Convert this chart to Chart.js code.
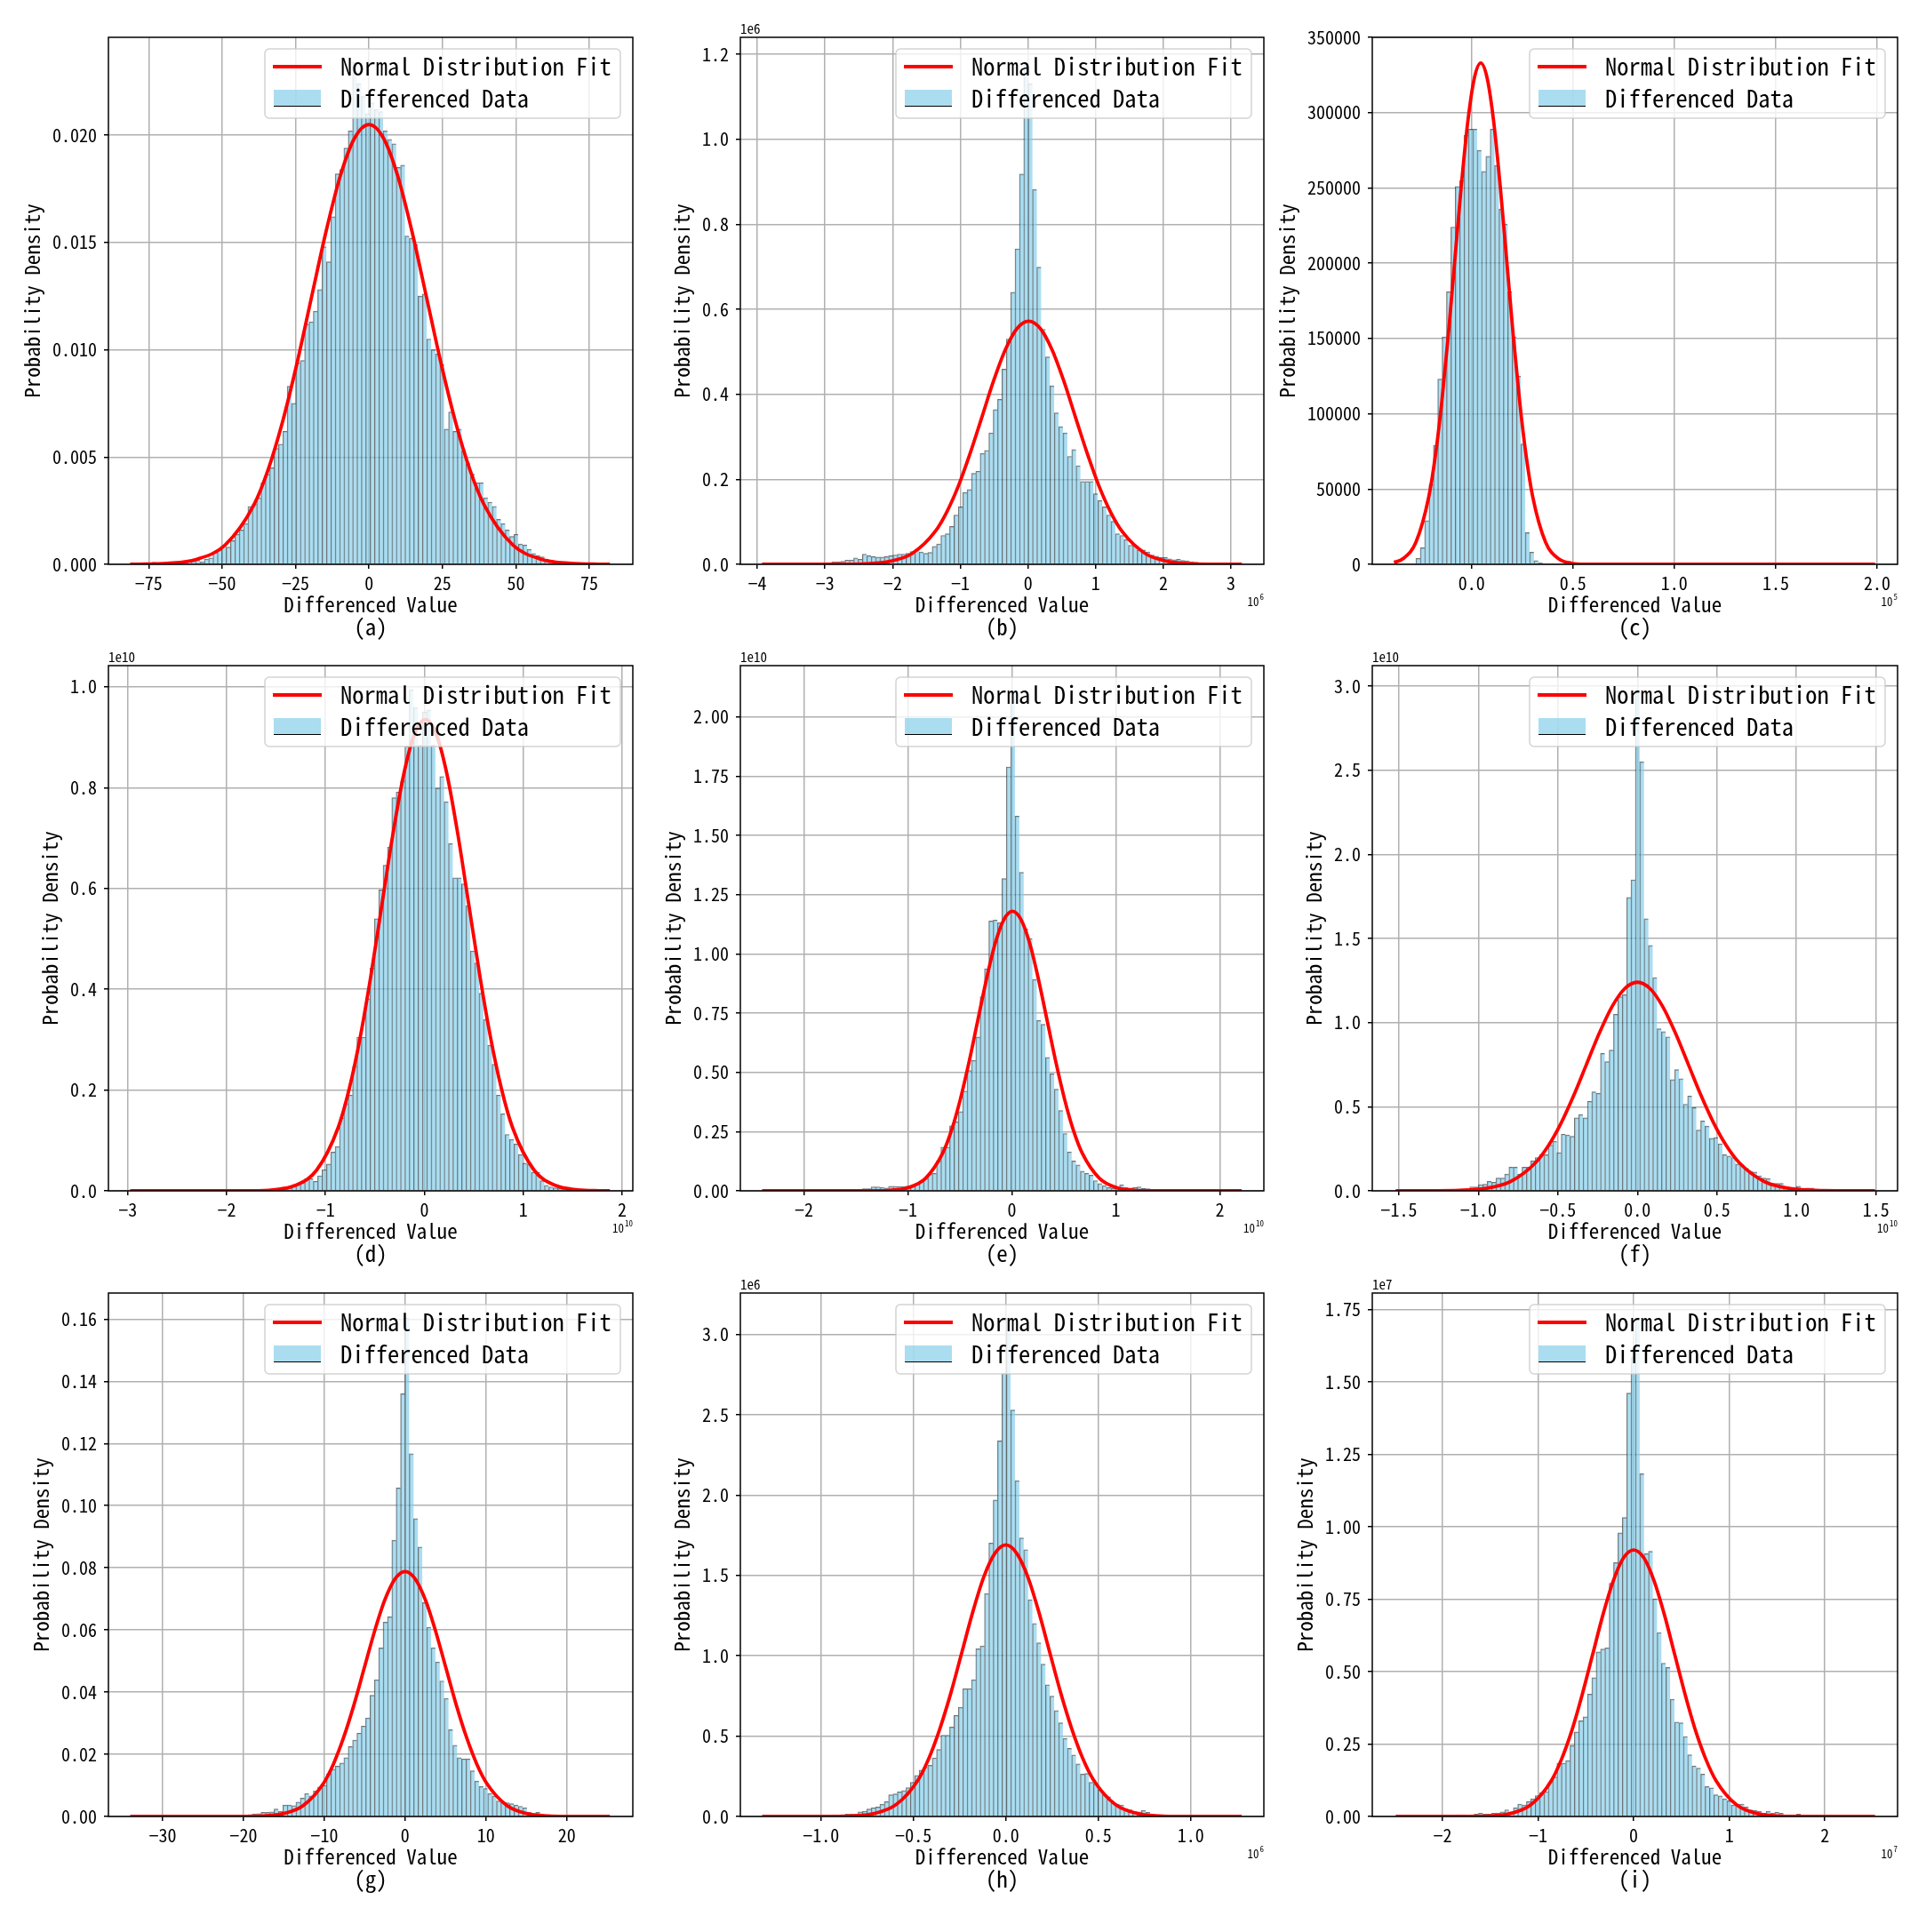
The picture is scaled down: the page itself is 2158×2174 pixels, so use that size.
<!DOCTYPE html>
<html>
<head>
<meta charset="utf-8">
<script src="https://cdn.jsdelivr.net/npm/chart.js@4.4.1/dist/chart.umd.min.js"></script>
<style>
  html, body { margin: 0; padding: 0; background: #fff; }
  #page { position: relative; width: 2158px; height: 2174px; overflow: hidden; }
  canvas { position: absolute; }
</style>
</head>
<body>
<div id="page"></div>
<script>
const FONT = "'Noto Sans Mono CJK SC', 'DejaVu Sans Mono', monospace";
const BAR_FILL = 'rgba(135,206,235,0.7)';
const BAR_EDGE = 'rgba(0,0,0,0.55)';
const GRID = '#b0b0b0';

// ---- (a) ----
const histRangeA = [-73.9, 74.6];
const histA = [
  0.0001, 0.00003, 0.00003, 0.00005, 0.00005, 0.00007, 0.0001, 0.0001, 0.00013, 0.00015,
  0.0002, 0.00012, 0.00025, 0.0003, 0.00055, 0.0007, 0.00086, 0.0008, 0.0011, 0.0014,
  0.0016, 0.0019, 0.0027, 0.0028, 0.0031, 0.0038, 0.0042, 0.0045, 0.0054, 0.0056,
  0.0062, 0.0083, 0.0075, 0.0094, 0.0095, 0.0112, 0.0113, 0.0118, 0.0128, 0.0148,
  0.0141, 0.0162, 0.0182, 0.0184, 0.0194, 0.0202, 0.0234, 0.0224, 0.0218, 0.021,
  0.0215, 0.0212, 0.0211, 0.0202, 0.0198, 0.0196, 0.0185, 0.0186, 0.0153, 0.0152,
  0.0149, 0.0125, 0.0126, 0.0105, 0.01, 0.0098, 0.0093, 0.0063, 0.0071, 0.0062,
  0.0063, 0.0053, 0.0047, 0.0042, 0.0038, 0.0038, 0.0031, 0.0029, 0.0027, 0.0021,
  0.0019, 0.0016, 0.0013, 0.0014, 0.00095, 0.0009, 0.0007, 0.0005, 0.0004, 0.00035,
  0.00025, 0.0002, 0.00015, 0.00012, 0.0001, 0.00006, 0.00005, 0.00003, 0.00002, 0.00002
];
const curveXA = [-81.3, -78.4, -68.6, -58.8, -49, -39.2, -34.3, -29.4, -24.5, -19.6, -14.7, -9.8, -4.9, 0,
  4.9, 9.8, 14.7, 19.6, 24.5, 29.4, 34.3, 39.2, 49, 58.8, 68.6, 78.4, 82];
const curveYA = [0.000004, 0.000007, 0.000045, 0.00023, 0.0009, 0.00277, 0.00443, 0.00666, 0.00938, 0.01243, 0.01547, 0.01809, 0.01987, 0.0205,
  0.01987, 0.01809, 0.01547, 0.01243, 0.00938, 0.00666, 0.00443, 0.00277, 0.0009, 0.00023, 0.000045, 0.000007, 0.000004];
const xRangeA = [-88.7, 89.8];
const xTicksA = [-75, -50, -25, 0, 25, 50, 75];
const xLabelsA = ['\u221275', '\u221250', '\u221225', '0', '25', '50', '75'];
const yMaxA = 0.02456;
const yTicksA = [0, 0.005, 0.01, 0.015, 0.02];
const yLabelsA = ['0.000', '0.005', '0.010', '0.015', '0.020'];

// ---- (b) ----
const histRangeB = [-3.607, 2.837];
const histB = [
  0, 0, 0.001, 0, 0.001, 0.001, 0.002, 0.002, 0.003, 0.003,
  0.004, 0.006, 0.006, 0.007, 0.01, 0.01, 0.015, 0.012, 0.024, 0.02,
  0.018, 0.017, 0.017, 0.018, 0.02, 0.022, 0.024, 0.024, 0.026, 0.03,
  0.034, 0.029, 0.026, 0.028, 0.042, 0.048, 0.068, 0.072, 0.089, 0.116,
  0.135, 0.169, 0.176, 0.214, 0.219, 0.261, 0.268, 0.309, 0.364, 0.388,
  0.459, 0.53, 0.64, 0.742, 0.918, 1.18, 1.13, 0.882, 0.699, 0.553,
  0.488, 0.42, 0.356, 0.324, 0.309, 0.254, 0.27, 0.232, 0.195, 0.195,
  0.195, 0.166, 0.15, 0.135, 0.116, 0.101, 0.072, 0.068, 0.058, 0.045,
  0.043, 0.034, 0.034, 0.029, 0.022, 0.019, 0.016, 0.016, 0.013, 0.011,
  0.012, 0.009, 0.008, 0.006, 0.005, 0.003, 0.002, 0.001, 0.001, 0.0005
];
const curveXB = [-3.93, -2.75, -2.405, -2.06, -1.715, -1.37, -1.198, -1.025, -0.853, -0.68, -0.508, -0.335, -0.163, 0.01,
  0.183, 0.355, 0.528, 0.7, 0.873, 1.045, 1.218, 1.39, 1.735, 2.08, 2.425, 2.77, 3.16];
const curveYB = [0, 0.0002, 0.0013, 0.0064, 0.0251, 0.0774, 0.1237, 0.1857, 0.2619, 0.3469, 0.4317, 0.5048, 0.5544, 0.572,
  0.5544, 0.5048, 0.4317, 0.3469, 0.2619, 0.1857, 0.1237, 0.0774, 0.0251, 0.0064, 0.0013, 0.0002, 0.00001];
const xRangeB = [-4.25, 3.485];
const xTicksB = [-4, -3, -2, -1, 0, 1, 2, 3];
const xLabelsB = ['\u22124', '\u22123', '\u22122', '\u22121', '0', '1', '2', '3'];
const yMaxB = 1.2396;
const yTicksB = [0, 0.2, 0.4, 0.6, 0.8, 1.0, 1.2];
const yLabelsB = ['0.0', '0.2', '0.4', '0.6', '0.8', '1.0', '1.2'];

// ---- (c) ----
const histRangeC = [-0.275, 1.882];
const histC = [
  4000, 11000, 29000, 53000, 79000, 123000, 151000, 181000, 224000, 251000,
  255000, 285000, 289000, 289000, 275000, 261000, 271000, 289000, 265000, 236000,
  226000, 181000, 151000, 125000, 80000, 21000, 8000, 2500, 1000, 0,
  0, 0, 0, 0, 0, 0, 0, 0, 0, 0,
  0, 0, 0, 0, 0, 0, 0, 0, 0, 0,
  0, 0, 0, 0, 0, 0, 0, 0, 0, 0,
  0, 0, 0, 0, 0, 0, 0, 0, 0, 0,
  0, 0, 0, 0, 0, 0, 0, 0, 0, 0,
  0, 0, 0, 0, 0, 0, 0, 0, 0, 0,
  0, 0, 0, 0, 0, 0, 0, 0, 0, 50
];
const curveXC = [-0.383, -0.339, -0.275, -0.211, -0.179, -0.147, -0.115, -0.083, -0.051, -0.019, 0.013, 0.045,
  0.077, 0.109, 0.141, 0.173, 0.205, 0.237, 0.269, 0.301, 0.365, 0.429, 0.493, 0.557, 0.8, 1.99];
const curveYC = [1260, 3700, 14600, 45100, 72000, 108100, 152400, 202000, 251300, 293900, 322700, 333000,
  322700, 293900, 251300, 202000, 152400, 108100, 72000, 45100, 14600, 3700, 730, 110, 0, 0];
const xRangeC = [-0.49, 2.101];
const xTicksC = [0, 0.5, 1.0, 1.5, 2.0];
const xLabelsC = ['0.0', '0.5', '1.0', '1.5', '2.0'];
const yMaxC = 350050;
const yTicksC = [0, 50000, 100000, 150000, 200000, 250000, 300000, 350000];
const yLabelsC = ['0', '50000', '100000', '150000', '200000', '250000', '300000', '350000'];

// ---- (d) ----
const histRangeD = [-2.755, 1.655];
const histD = [
  0.0005, 0, 0, 0, 0, 0, 0.001, 0, 0, 0,
  0, 0, 0, 0, 0, 0, 0, 0, 0, 0,
  0, 0, 0.0005, 0, 0.001, 0, 0.001, 0.001, 0.002, 0.003,
  0.004, 0.006, 0.009, 0.012, 0.016, 0.024, 0.024, 0.019, 0.03, 0.042,
  0.053, 0.077, 0.088, 0.145, 0.173, 0.19, 0.247, 0.305, 0.305, 0.381,
  0.442, 0.54, 0.597, 0.646, 0.682, 0.78, 0.791, 0.813, 0.882, 0.994,
  0.959, 0.884, 0.95, 0.954, 0.884, 0.799, 0.822, 0.772, 0.689, 0.621,
  0.621, 0.609, 0.566, 0.476, 0.452, 0.392, 0.34, 0.289, 0.251, 0.19,
  0.153, 0.112, 0.102, 0.093, 0.072, 0.055, 0.053, 0.037, 0.037, 0.02,
  0.011, 0.008, 0.006, 0.005, 0.004, 0.003, 0.002, 0.001, 0.001, 0.0005
];
const curveXD = [-2.975, -1.75, -1.53, -1.31, -1.09, -0.87, -0.76, -0.65, -0.54, -0.43, -0.32, -0.21, -0.1, 0.01,
  0.12, 0.23, 0.34, 0.45, 0.56, 0.67, 0.78, 0.89, 1.11, 1.33, 1.55, 1.77, 1.876];
const curveYD = [0, 0.0003, 0.0021, 0.0104, 0.041, 0.1265, 0.2022, 0.3036, 0.428, 0.5671, 0.7057, 0.8251, 0.9062, 0.935,
  0.9062, 0.8251, 0.7057, 0.5671, 0.428, 0.3036, 0.2022, 0.1265, 0.041, 0.0104, 0.0021, 0.0003, 0.0001];
const xRangeD = [-3.195, 2.108];
const xTicksD = [-3, -2, -1, 0, 1, 2];
const xLabelsD = ['\u22123', '\u22122', '\u22121', '0', '1', '2'];
const yMaxD = 1.042;
const yTicksD = [0, 0.2, 0.4, 0.6, 0.8, 1.0];
const yLabelsD = ['0.0', '0.2', '0.4', '0.6', '0.8', '1.0'];

// ---- (e) ----
const histRangeE = [-2.192, 1.999];
const histE = [
  0.0005, 0, 0, 0, 0, 0.001, 0, 0, 0.001, 0,
  0.001, 0.001, 0, 0.002, 0.002, 0.003, 0.004, 0.005, 0.009, 0.009,
  0.017, 0.017, 0.015, 0.012, 0.019, 0.019, 0.018, 0.018, 0.02, 0.022,
  0.031, 0.04, 0.052, 0.071, 0.074, 0.126, 0.184, 0.184, 0.274, 0.291,
  0.334, 0.421, 0.508, 0.551, 0.649, 0.819, 0.937, 1.139, 1.143, 1.131,
  1.318, 1.789, 2.11, 1.581, 1.344, 1.105, 1.065, 0.892, 0.719, 0.703,
  0.563, 0.494, 0.429, 0.339, 0.242, 0.164, 0.126, 0.109, 0.083, 0.074,
  0.066, 0.043, 0.031, 0.022, 0.014, 0.012, 0.01, 0.026, 0.014, 0.012,
  0.014, 0.017, 0.01, 0.009, 0.006, 0.004, 0.003, 0.002, 0.002, 0.001,
  0.001, 0.001, 0, 0, 0.001, 0, 0, 0, 0, 0.0005
];
const curveXE = [-2.402, -1.335, -1.168, -1.0, -0.833, -0.665, -0.581, -0.498, -0.414, -0.33, -0.246, -0.163, -0.079, 0.005,
  0.089, 0.173, 0.256, 0.34, 0.424, 0.508, 0.591, 0.675, 0.843, 1.01, 1.178, 1.345, 2.209];
const curveYE = [0, 0.0004, 0.0026, 0.0131, 0.0518, 0.1597, 0.2552, 0.3831, 0.5402, 0.7157, 0.8907, 1.0414, 1.1437, 1.18,
  1.1437, 1.0414, 0.8907, 0.7157, 0.5402, 0.3831, 0.2552, 0.1597, 0.0518, 0.0131, 0.0026, 0.0004, 0];
const xRangeE = [-2.611, 2.422];
const xTicksE = [-2, -1, 0, 1, 2];
const xLabelsE = ['\u22122', '\u22121', '0', '1', '2'];
const yMaxE = 2.2165;
const yTicksE = [0, 0.25, 0.5, 0.75, 1.0, 1.25, 1.5, 1.75, 2.0];
const yLabelsE = ['0.00', '0.25', '0.50', '0.75', '1.00', '1.25', '1.50', '1.75', '2.00'];

// ---- (f) ----
const histRangeF = [-1.383, 1.357];
const histF = [
  0.0005, 0.002, 0, 0.003, 0, 0.004, 0.003, 0.005, 0.006, 0.008,
  0.01, 0.012, 0.024, 0.024, 0.037, 0.039, 0.056, 0.051, 0.076, 0.076,
  0.1, 0.141, 0.141, 0.1, 0.141, 0.141, 0.178, 0.198, 0.215, 0.215,
  0.271, 0.295, 0.227, 0.337, 0.332, 0.324, 0.434, 0.454, 0.434, 0.532,
  0.588, 0.58, 0.817, 0.768, 0.837, 1.049, 1.154, 1.166, 1.744, 1.849,
  2.97, 2.551, 1.617, 1.459, 1.268, 0.963, 0.946, 0.915, 0.661, 0.72,
  0.666, 0.515, 0.563, 0.495, 0.361, 0.415, 0.385, 0.312, 0.317, 0.28,
  0.215, 0.207, 0.198, 0.159, 0.154, 0.134, 0.117, 0.112, 0.09, 0.076,
  0.073, 0.044, 0.044, 0.044, 0.02, 0.012, 0.012, 0.027, 0.015, 0.017,
  0.017, 0.008, 0.005, 0.004, 0.003, 0.002, 0.002, 0.001, 0.001, 0.0005
];
const curveXF = [-1.52, -1.28, -1.12, -0.96, -0.8, -0.64, -0.56, -0.48, -0.4, -0.32, -0.24, -0.16, -0.08, 0,
  0.08, 0.16, 0.24, 0.32, 0.4, 0.48, 0.56, 0.64, 0.8, 0.96, 1.12, 1.28, 1.494];
const curveYF = [0.00002, 0.0004, 0.0027, 0.0138, 0.0544, 0.1678, 0.2682, 0.4026, 0.5677, 0.7521, 0.936, 1.0943, 1.2018, 1.24,
  1.2018, 1.0943, 0.936, 0.7521, 0.5677, 0.4026, 0.2682, 0.1678, 0.0544, 0.0138, 0.0027, 0.0004, 0.00002];
const xRangeF = [-1.667, 1.636];
const xTicksF = [-1.5, -1.0, -0.5, 0, 0.5, 1.0, 1.5];
const xLabelsF = ['\u22121.5', '\u22121.0', '\u22120.5', '0.0', '0.5', '1.0', '1.5'];
const yMaxF = 3.122;
const yTicksF = [0, 0.5, 1.0, 1.5, 2.0, 2.5, 3.0];
const yLabelsF = ['0.0', '0.5', '1.0', '1.5', '2.0', '2.5', '3.0'];

// ---- (g) ----
const histRangeG = [-31.31, 22.63];
const histG = [
  0.0001, 0, 0, 0, 0, 0, 0, 0, 0, 0,
  0, 0, 0, 0, 0, 0.0001, 0, 0.0001, 0.0001, 0.0002,
  0.0003, 0.0004, 0.0006, 0.0008, 0.0009, 0.0013, 0.0013, 0.0015, 0.0024, 0.0017,
  0.0037, 0.0037, 0.0035, 0.0046, 0.0059, 0.0074, 0.0066, 0.0083, 0.0095, 0.01,
  0.0136, 0.0152, 0.0162, 0.0172, 0.0189, 0.0225, 0.0246, 0.0268, 0.0291, 0.0317,
  0.039, 0.044, 0.0542, 0.0625, 0.0642, 0.0889, 0.1057, 0.136, 0.1604, 0.1167,
  0.0958, 0.0867, 0.0688, 0.0609, 0.0543, 0.0497, 0.0436, 0.038, 0.0279, 0.0229,
  0.0189, 0.0185, 0.0185, 0.0147, 0.0114, 0.0096, 0.009, 0.0074, 0.0066, 0.005,
  0.0046, 0.0044, 0.0041, 0.0037, 0.0033, 0.0028, 0.0013, 0.0007, 0.0013, 0.0004,
  0.0003, 0.0002, 0.0001, 0.0001, 0, 0, 0, 0, 0, 0.0001
];
const curveXG = [-34, -20.2, -17.68, -15.15, -12.63, -10.1, -8.84, -7.58, -6.31, -5.05, -3.79, -2.53, -1.26, 0,
  1.26, 2.53, 3.79, 5.05, 6.31, 7.58, 8.84, 10.1, 12.63, 15.15, 17.68, 20.2, 25.33];
const curveYG = [0, 0.00003, 0.00017, 0.00088, 0.00346, 0.01066, 0.01704, 0.02559, 0.03607, 0.04779, 0.05948, 0.06954, 0.07637, 0.0788,
  0.07637, 0.06954, 0.05948, 0.04779, 0.03607, 0.02559, 0.01704, 0.01066, 0.00346, 0.00088, 0.00017, 0.00003, 0];
const xRangeG = [-36.7, 28.17];
const xTicksG = [-30, -20, -10, 0, 10, 20];
const xLabelsG = ['\u221230', '\u221220', '\u221210', '0', '10', '20'];
const yMaxG = 0.1684;
const yTicksG = [0, 0.02, 0.04, 0.06, 0.08, 0.10, 0.12, 0.14, 0.16];
const yLabelsG = ['0.00', '0.02', '0.04', '0.06', '0.08', '0.10', '0.12', '0.14', '0.16'];

// ---- (h) ----
const histRangeH = [-1.2, 1.158];
const histH = [
  0.0005, 0, 0.002, 0, 0.003, 0.002, 0.004, 0.004, 0.006, 0.008,
  0.008, 0.01, 0.01, 0.012, 0.015, 0.015, 0.015, 0.028, 0.033, 0.046,
  0.054, 0.059, 0.077, 0.092, 0.135, 0.14, 0.153, 0.161, 0.179, 0.212,
  0.256, 0.289, 0.307, 0.319, 0.365, 0.417, 0.506, 0.506, 0.557, 0.629,
  0.68, 0.795, 0.795, 0.851, 1.043, 1.061, 1.388, 1.702, 1.97, 2.338,
  2.76, 3.1, 2.53, 2.09, 1.733, 1.661, 1.349, 1.201, 1.081, 0.948,
  0.82, 0.749, 0.659, 0.583, 0.486, 0.424, 0.383, 0.327, 0.263, 0.268,
  0.212, 0.204, 0.166, 0.135, 0.123, 0.084, 0.077, 0.072, 0.046, 0.041,
  0.033, 0.028, 0.038, 0.026, 0.015, 0.01, 0.008, 0.006, 0.005, 0.004,
  0.003, 0.003, 0.002, 0.002, 0.001, 0.001, 0.001, 0, 0, 0.0005
];
const curveXH = [-1.318, -0.948, -0.83, -0.711, -0.593, -0.474, -0.415, -0.356, -0.296, -0.237, -0.178, -0.119, -0.059, 0,
  0.059, 0.119, 0.178, 0.237, 0.296, 0.356, 0.415, 0.474, 0.593, 0.711, 0.83, 0.948, 1.276];
const curveYH = [0, 0.0006, 0.0037, 0.0188, 0.0742, 0.2287, 0.3655, 0.5487, 0.7737, 1.025, 1.2756, 1.4914, 1.638, 1.69,
  1.638, 1.4914, 1.2756, 1.025, 0.7737, 0.5487, 0.3655, 0.2287, 0.0742, 0.0188, 0.0037, 0.0006, 0];
const xRangeH = [-1.436, 1.396];
const xTicksH = [-1.0, -0.5, 0, 0.5, 1.0];
const xLabelsH = ['\u22121.0', '\u22120.5', '0.0', '0.5', '1.0'];
const yMaxH = 3.258;
const yTicksH = [0, 0.5, 1.0, 1.5, 2.0, 2.5, 3.0];
const yLabelsH = ['0.0', '0.5', '1.0', '1.5', '2.0', '2.5', '3.0'];

// ---- (i) ----
const histRangeI = [-2.261, 2.296];
const histI = [
  0.0005, 0, 0.002, 0.001, 0.002, 0.002, 0.003, 0.004, 0.004, 0.006,
  0.006, 0.004, 0.006, 0.008, 0.011, 0.008, 0.008, 0.011, 0.012, 0.016,
  0.023, 0.016, 0.03, 0.043, 0.04, 0.051, 0.061, 0.072, 0.082, 0.086,
  0.118, 0.136, 0.184, 0.184, 0.193, 0.245, 0.292, 0.33, 0.344, 0.422,
  0.479, 0.568, 0.578, 0.582, 0.805, 0.876, 0.979, 1.032, 1.461, 1.584,
  1.72, 1.183, 0.907, 0.915, 0.751, 0.635, 0.529, 0.514, 0.405, 0.326,
  0.323, 0.276, 0.213, 0.174, 0.167, 0.146, 0.103, 0.099, 0.075, 0.071,
  0.061, 0.054, 0.04, 0.043, 0.043, 0.033, 0.023, 0.021, 0.018, 0.011,
  0.018, 0.011, 0.014, 0.011, 0.006, 0.006, 0.006, 0.008, 0.004, 0.003,
  0.003, 0.002, 0.002, 0.001, 0.001, 0.001, 0, 0, 0, 0.0005
];
const curveXI = [-2.489, -1.72, -1.505, -1.29, -1.075, -0.86, -0.753, -0.645, -0.538, -0.43, -0.323, -0.215, -0.108, 0,
  0.108, 0.215, 0.323, 0.43, 0.538, 0.645, 0.753, 0.86, 1.075, 1.29, 1.505, 1.72, 2.524];
const curveYI = [0, 0.0003, 0.002, 0.0102, 0.0404, 0.1245, 0.199, 0.2987, 0.4212, 0.558, 0.6944, 0.8119, 0.8917, 0.92,
  0.8917, 0.8119, 0.6944, 0.558, 0.4212, 0.2987, 0.199, 0.1245, 0.0404, 0.0102, 0.002, 0.0003, 0];
const xRangeI = [-2.734, 2.76];
const xTicksI = [-2, -1, 0, 1, 2];
const xLabelsI = ['\u22122', '\u22121', '0', '1', '2'];
const yMaxI = 1.8067;
const yTicksI = [0, 0.25, 0.5, 0.75, 1.0, 1.25, 1.5, 1.75];
const yLabelsI = ['0.00', '0.25', '0.50', '0.75', '1.00', '1.25', '1.50', '1.75'];

const panelNames = ['(a)', '(b)', '(c)', '(d)', '(e)', '(f)', '(g)', '(h)', '(i)'];
const yOffsets = [null, '1e6', null, '1e10', '1e10', '1e10', null, '1e6', '1e7'];
const xOffsets = [null, '6', '5', '10', '10', '10', null, '6', '7'];

// layout of the 3x3 grid (plot area edges, page pixels)
const colLeft = [122, 833, 1544], colRight = [712, 1422, 2135];
const rowTop = [42, 749, 1455], rowBottom = [635, 1340, 2044];
const PAD_L = 122, PAD_T = 40, PAD_R = 16, PAD_B = 100;

const panels = [
  [histRangeA, histA, curveXA, curveYA, xRangeA, xTicksA, xLabelsA, yMaxA, yTicksA, yLabelsA],
  [histRangeB, histB, curveXB, curveYB, xRangeB, xTicksB, xLabelsB, yMaxB, yTicksB, yLabelsB],
  [histRangeC, histC, curveXC, curveYC, xRangeC, xTicksC, xLabelsC, yMaxC, yTicksC, yLabelsC],
  [histRangeD, histD, curveXD, curveYD, xRangeD, xTicksD, xLabelsD, yMaxD, yTicksD, yLabelsD],
  [histRangeE, histE, curveXE, curveYE, xRangeE, xTicksE, xLabelsE, yMaxE, yTicksE, yLabelsE],
  [histRangeF, histF, curveXF, curveYF, xRangeF, xTicksF, xLabelsF, yMaxF, yTicksF, yLabelsF],
  [histRangeG, histG, curveXG, curveYG, xRangeG, xTicksG, xLabelsG, yMaxG, yTicksG, yLabelsG],
  [histRangeH, histH, curveXH, curveYH, xRangeH, xTicksH, xLabelsH, yMaxH, yTicksH, yLabelsH],
  [histRangeI, histI, curveXI, curveYI, xRangeI, xTicksI, xLabelsI, yMaxI, yTicksI, yLabelsI]
];

function decor(idx, yLabels) {
  return {
    id: 'decor' + idx,
    afterDatasetsDraw(chart) {
      const { ctx, chartArea: a } = chart;
      ctx.save();
      ctx.strokeStyle = '#000';
      ctx.lineWidth = 1.5;
      ctx.strokeRect(a.left, a.top, a.right - a.left, a.bottom - a.top);
      ctx.restore();
    },
    afterDraw(chart) {
      const { ctx, chartArea: a } = chart;
      ctx.save();

      // legend box, upper right
      const bw = 400, bh = 78;
      const bx = a.right - 14 - bw, by = a.top + 13;
      ctx.beginPath();
      ctx.roundRect(bx, by, bw, bh, 5);
      ctx.fillStyle = 'rgba(255,255,255,0.8)';
      ctx.fill();
      ctx.strokeStyle = 'rgba(200,200,200,0.8)';
      ctx.lineWidth = 1.5;
      ctx.stroke();
      ctx.strokeStyle = 'red';
      ctx.lineWidth = 3.8;
      ctx.beginPath();
      ctx.moveTo(bx + 9, by + 20);
      ctx.lineTo(bx + 64, by + 20);
      ctx.stroke();
      ctx.fillStyle = BAR_FILL;
      ctx.fillRect(bx + 10, by + 46, 53, 18.5);
      ctx.strokeStyle = '#000';
      ctx.lineWidth = 1;
      ctx.beginPath();
      ctx.moveTo(bx + 10, by + 64.5);
      ctx.lineTo(bx + 63, by + 64.5);
      ctx.stroke();
      ctx.fillStyle = '#000';
      ctx.font = '26.5px ' + FONT;
      ctx.textAlign = 'left';
      ctx.textBaseline = 'middle';
      ctx.fillText('Normal Distribution Fit', bx + 85, by + 20);
      ctx.fillText('Differenced Data', bx + 85, by + 56);

      // axis titles and panel letter
      const cx = (a.left + a.right) / 2;
      ctx.textAlign = 'center';
      ctx.font = '23px ' + FONT;
      ctx.fillText('Differenced Value', cx, a.bottom + 45);
      ctx.font = '25px ' + FONT;
      ctx.fillText(panelNames[idx], cx, a.bottom + 70);

      ctx.font = '20px ' + FONT;
      let maxW = 0;
      yLabels.forEach(t => { maxW = Math.max(maxW, ctx.measureText(t).width); });
      ctx.save();
      ctx.translate(a.left - 13 - maxW - 23, (a.top + a.bottom) / 2);
      ctx.rotate(-Math.PI / 2);
      ctx.font = '23px ' + FONT;
      ctx.fillText('Probability Density', 0, 0);
      ctx.restore();

      // offset texts
      if (yOffsets[idx]) {
        ctx.font = '15px ' + FONT;
        ctx.textAlign = 'left';
        ctx.fillText(yOffsets[idx], a.left, a.top - 10);
      }
      if (xOffsets[idx]) {
        ctx.textAlign = 'right';
        ctx.font = '9px ' + FONT;
        const sw = ctx.measureText(xOffsets[idx]).width;
        ctx.fillText(xOffsets[idx], a.right, a.bottom + 37);
        ctx.font = '13px ' + FONT;
        ctx.fillText('10', a.right - sw - 1, a.bottom + 42);
      }
      ctx.restore();
    }
  };
}

const page = document.getElementById('page');

panels.forEach((p, idx) => {
  const [hr, hist, cxs, cys, xr, xt, xl, ymax, yt, yl] = p;
  const col = idx % 3, row = Math.floor(idx / 3);
  const w = colRight[col] - colLeft[col] + PAD_L + PAD_R;
  const h = rowBottom[row] - rowTop[row] + PAD_T + PAD_B;
  const cv = document.createElement('canvas');
  cv.width = w;
  cv.height = h;
  cv.style.left = (colLeft[col] - PAD_L) + 'px';
  cv.style.top = (rowTop[row] - PAD_T) + 'px';
  cv.style.width = w + 'px';
  cv.style.height = h + 'px';
  page.appendChild(cv);

  const binW = (hr[1] - hr[0]) / hist.length;
  const bars = hist.map((v, i) => ({ x: hr[0] + (i + 0.5) * binW, y: v }));
  const fit = cxs.map((x, i) => ({ x: x, y: cys[i] }));

  new Chart(cv, {
    type: 'bar',
    data: {
      datasets: [
        {
          type: 'line',
          label: 'Normal Distribution Fit',
          data: fit,
          borderColor: 'red',
          borderWidth: 3.8,
          pointRadius: 0,
          fill: false,
          cubicInterpolationMode: 'monotone',
          order: 0
        },
        {
          type: 'bar',
          label: 'Differenced Data',
          data: bars,
          backgroundColor: BAR_FILL,
          borderColor: BAR_EDGE,
          borderWidth: { top: 1, left: 1, right: 0, bottom: 0 },
          borderSkipped: false,
          barPercentage: 1,
          categoryPercentage: 1,
          order: 1
        }
      ]
    },
    options: {
      responsive: false,
      animation: false,
      layout: { padding: { left: 0, top: PAD_T, right: PAD_R, bottom: 0 } },
      plugins: { legend: { display: false }, tooltip: { enabled: false } },
      scales: {
        x: {
          type: 'linear',
          min: xr[0],
          max: xr[1],
          offset: false,
          afterBuildTicks: s => { s.ticks = xt.map(v => ({ value: v })); },
          afterFit: s => { s.height = PAD_B; },
          border: { display: false },
          grid: { offset: false, color: GRID, lineWidth: 1.5, tickColor: '#000', tickWidth: 1.5, tickLength: 5 },
          ticks: {
            autoSkip: false, maxRotation: 0, padding: 4, color: '#000',
            font: { family: FONT, size: 20 },
            callback: (v, i) => xl[i]
          }
        },
        y: {
          min: 0,
          max: ymax,
          afterBuildTicks: s => { s.ticks = yt.map(v => ({ value: v })); },
          afterFit: s => { s.width = PAD_L; },
          border: { display: false },
          grid: { color: GRID, lineWidth: 1.5, tickColor: '#000', tickWidth: 1.5, tickLength: 5 },
          ticks: {
            autoSkip: false, padding: 8, color: '#000',
            font: { family: FONT, size: 20 },
            callback: (v, i) => yl[i]
          }
        }
      }
    },
    plugins: [decor(idx, yl)]
  });
});
</script>
</body>
</html>
